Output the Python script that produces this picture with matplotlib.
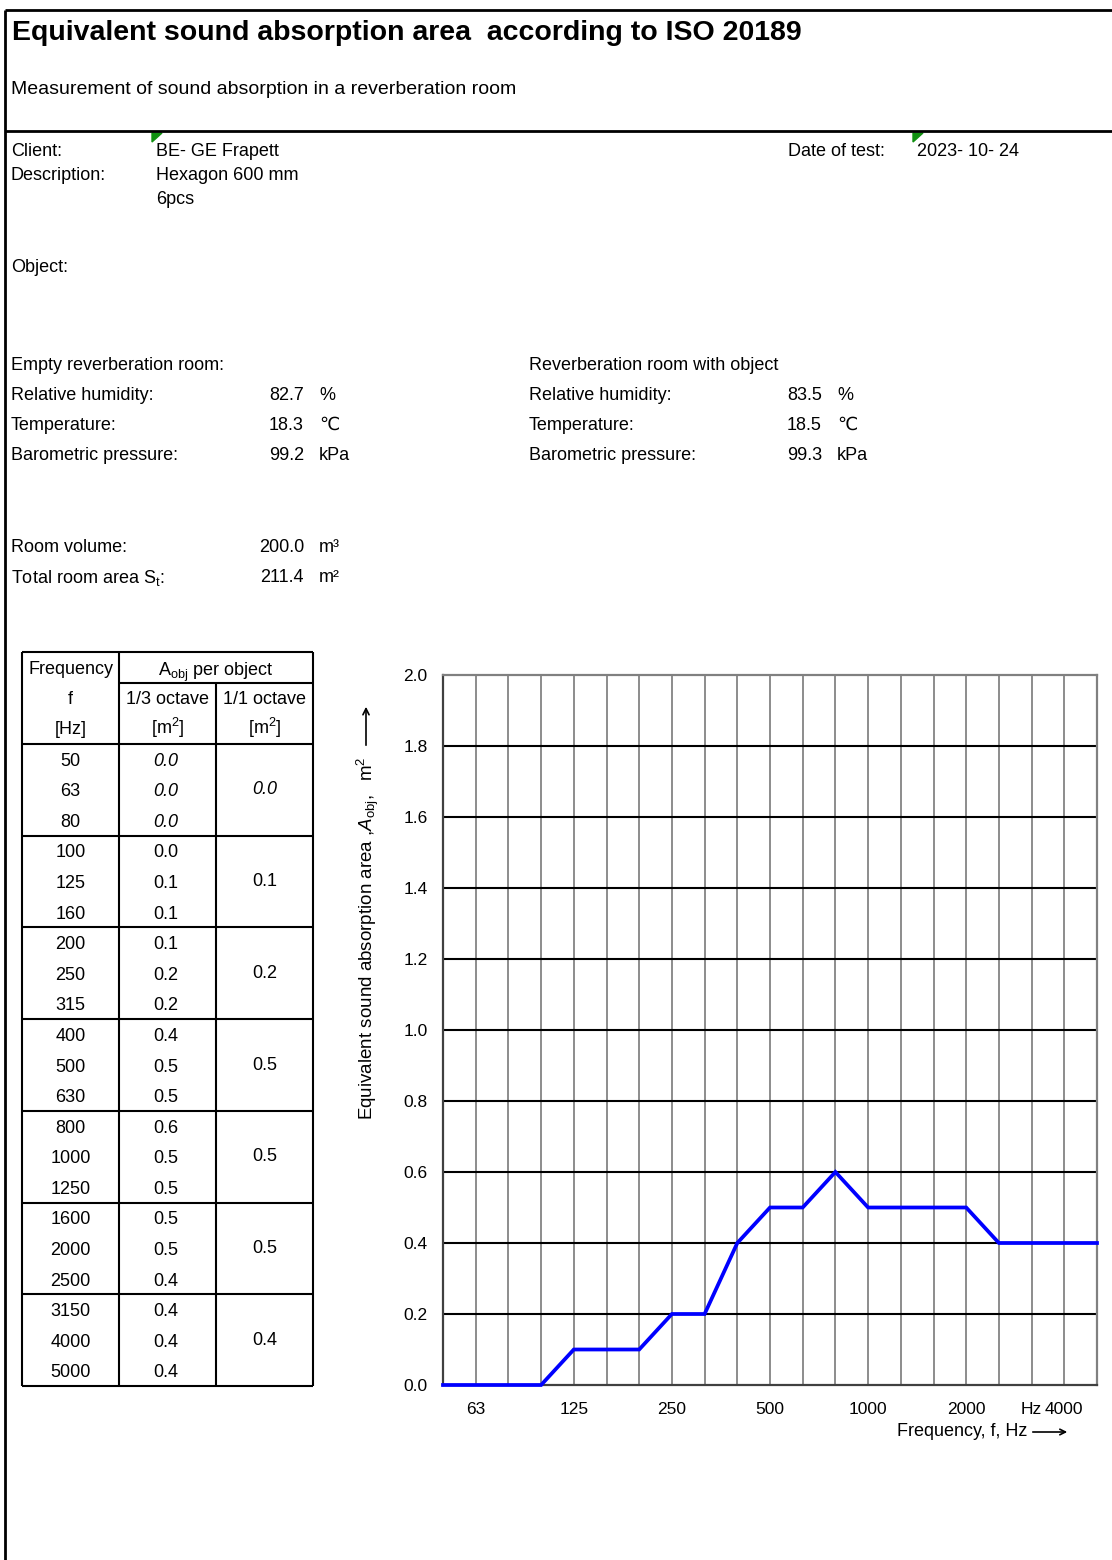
import matplotlib
matplotlib.use("Agg")
import matplotlib.pyplot as plt
from matplotlib.lines import Line2D
from matplotlib.patches import Polygon, FancyArrowPatch

plt.rcParams['font.family'] = ['Liberation Sans', 'DejaVu Sans']
plt.rcParams['mathtext.fontset'] = 'custom'
plt.rcParams['mathtext.rm'] = 'Liberation Sans'
plt.rcParams['mathtext.it'] = 'Liberation Sans:italic'

# data
freqs = [50, 63, 80, 100, 125, 160, 200, 250, 315, 400, 500, 630,
         800, 1000, 1250, 1600, 2000, 2500, 3150, 4000, 5000]
a_third = [0.0, 0.0, 0.0, 0.0, 0.1, 0.1, 0.1, 0.2, 0.2, 0.4, 0.5, 0.5,
           0.6, 0.5, 0.5, 0.5, 0.5, 0.4, 0.4, 0.4, 0.4]
a_octave = [0.0, 0.1, 0.2, 0.5, 0.5, 0.5, 0.4]
tick_freqs = [63, 125, 250, 500, 1000, 2000, 3150, 4000]
tick_labels = ["63", "125", "250", "500", "1000", "2000", "Hz", "4000"]

info_labels = ["Relative humidity:", "Temperature:", "Barometric pressure:"]
info_units = ["%", "℃", "kPa"]
empty_values = ["82.7", "18.3", "99.2"]
object_values = ["83.5", "18.5", "99.3"]

W, H = 1112, 1560
fig = plt.figure(figsize=(W / 100, H / 100), dpi=100)


def fx(x):
    return x / W


def fy(y):
    return 1 - y / H


def txt(x, y, s, size=13, **kw):
    kw.setdefault("va", "center")
    fig.text(fx(x), fy(y), s, fontsize=size, **kw)


def line(x0, y0, x1, y1, lw=1.5, c="black"):
    fig.add_artist(Line2D([fx(x0), fx(x1)], [fy(y0), fy(y1)], lw=lw, color=c,
                          solid_capstyle="butt"))


# page frame
line(5, 10, W, 10, lw=2)
line(5, 10, 5, H, lw=2)
line(5, 131, W, 131, lw=2)

txt(12, 33, "Equivalent sound absorption area  according to ISO 20189", size=20.5, weight="bold")
txt(11, 90, "Measurement of sound absorption in a reverberation room", size=14)

# green cell markers
for gx in (152, 913):
    fig.add_artist(Polygon([(fx(gx), fy(133)), (fx(gx + 10), fy(133)), (fx(gx), fy(142))],
                           closed=True, color="#109010", transform=fig.transFigure))

txt(11, 151, "Client:")
txt(156, 151, "BE- GE Frapett")
txt(11, 176, "Description:")
txt(156, 176, "Hexagon 600 mm")
txt(156, 199, "6pcs")
txt(788, 151, "Date of test:")
txt(917, 151, "2023- 10- 24")
txt(11, 267, "Object:")

txt(11, 365, "Empty reverberation room:")
txt(529, 365, "Reverberation room with object")
for i, lab in enumerate(info_labels):
    y = 395 + i * 30.5
    txt(11, y, lab)
    txt(304, y, empty_values[i], ha="right")
    txt(319, y, info_units[i])
    txt(529, y, lab)
    txt(822, y, object_values[i], ha="right")
    txt(837, y, info_units[i])

txt(11, 548, "Room volume:")
txt(304, 548, "200.0", ha="right")
txt(319, 548, "m³")
txt(11, 578, "Total room area S$_\\mathregular{t}$:")
txt(304, 578, "211.4", ha="right")
txt(319, 578, "m²")

# table
tl, c1, c2, tr = 22, 119, 216, 313
top, hmid, hbot, bot = 652, 683, 744, 1386
row_h = (bot - hbot) / len(freqs)
line(tl, top, tr, top)
line(c1, hmid, tr, hmid)
line(tl, hbot, tr, hbot)
line(tl, top, tl, bot)
line(tr, top, tr, bot)
line(c1, top, c1, bot)
line(c2, hmid, c2, bot)
for g in range(1, 8):
    yy = hbot + g * 3 * row_h
    line(tl, yy, tr, yy)

ts = 13
txt((tl + c1) / 2, 669, "Frequency", size=ts, ha="center")
txt((c1 + tr) / 2, 672, "A$_\\mathregular{obj}$ per object", size=ts, ha="center")
txt((tl + c1) / 2, 700, "f", size=ts, ha="center")
txt((c1 + c2) / 2, 700, "1/3 octave", size=ts, ha="center")
txt((c2 + tr) / 2, 700, "1/1 octave", size=ts, ha="center")
txt((tl + c1) / 2, 729, "[Hz]", size=ts, ha="center")
txt((c1 + c2) / 2, 728, "[m$^\\mathregular{2}$]", size=ts, ha="center")
txt((c2 + tr) / 2, 728, "[m$^\\mathregular{2}$]", size=ts, ha="center")

for i, f in enumerate(freqs):
    y = hbot + (i + 0.5) * row_h + 2
    style = "italic" if i < 3 else "normal"
    txt((tl + c1) / 2, y, str(f), size=ts, ha="center")
    txt((c1 + c2) / 2 - 2, y, f"{a_third[i]:.1f}", size=ts, ha="center", style=style)
for g, v in enumerate(a_octave):
    y = hbot + (g * 3 + 1.5) * row_h
    txt((c2 + tr) / 2, y, f"{v:.1f}", size=ts, ha="center",
        style="italic" if g == 0 else "normal")

# chart
ax = fig.add_axes([fx(443), fy(1385), (1097 - 443) / W, (1385 - 675) / H])
idx = list(range(len(freqs)))
ax.plot(idx, a_third, color="#0000FF", lw=2.7, solid_joinstyle="miter", zorder=5, clip_on=False)
ax.set_xlim(0, len(freqs) - 1)
ax.set_ylim(0, 2.0)
for i in idx[1:-1]:
    ax.axvline(i, color="#8c8c8c", lw=1.4, zorder=1)
for v in [0.2, 0.4, 0.6, 0.8, 1.0, 1.2, 1.4, 1.6, 1.8]:
    ax.axhline(v, color="black", lw=1.5, zorder=2)
ax.set_yticks([0.0, 0.2, 0.4, 0.6, 0.8, 1.0, 1.2, 1.4, 1.6, 1.8, 2.0])
ax.set_yticklabels([f"{v:.1f}" for v in ax.get_yticks()])
ax.set_xticks([freqs.index(f) for f in tick_freqs])
ax.set_xticklabels(tick_labels)
ax.tick_params(axis="y", length=0, pad=11, labelsize=12.5)
ax.tick_params(axis="x", length=0, pad=12, labelsize=12.5)
ax.spines["left"].set_color("#404040")
ax.spines["bottom"].set_color("#404040")
ax.spines["top"].set_color("#808080")
ax.spines["right"].set_color("#808080")
for s in ax.spines.values():
    s.set_linewidth(1.6)

txt(368, 1120, "Equivalent sound absorption area ,$\\mathit{A}_\\mathregular{obj},$  m$^\\mathregular{2}$",
    size=13.5, rotation=90, rotation_mode="anchor", ha="left")
fig.add_artist(FancyArrowPatch((fx(366), fy(748)), (fx(366), fy(704)),
                               transform=fig.transFigure, arrowstyle="->",
                               mutation_scale=11, lw=1.2, color="black"))
txt(1027, 1431, "Frequency, f, Hz", size=13, ha="right")
fig.add_artist(FancyArrowPatch((fx(1030), fy(1432)), (fx(1070), fy(1432)),
                               transform=fig.transFigure, arrowstyle="->",
                               mutation_scale=10, lw=1.2, color="black"))

fig.savefig("out.png", dpi=100)
